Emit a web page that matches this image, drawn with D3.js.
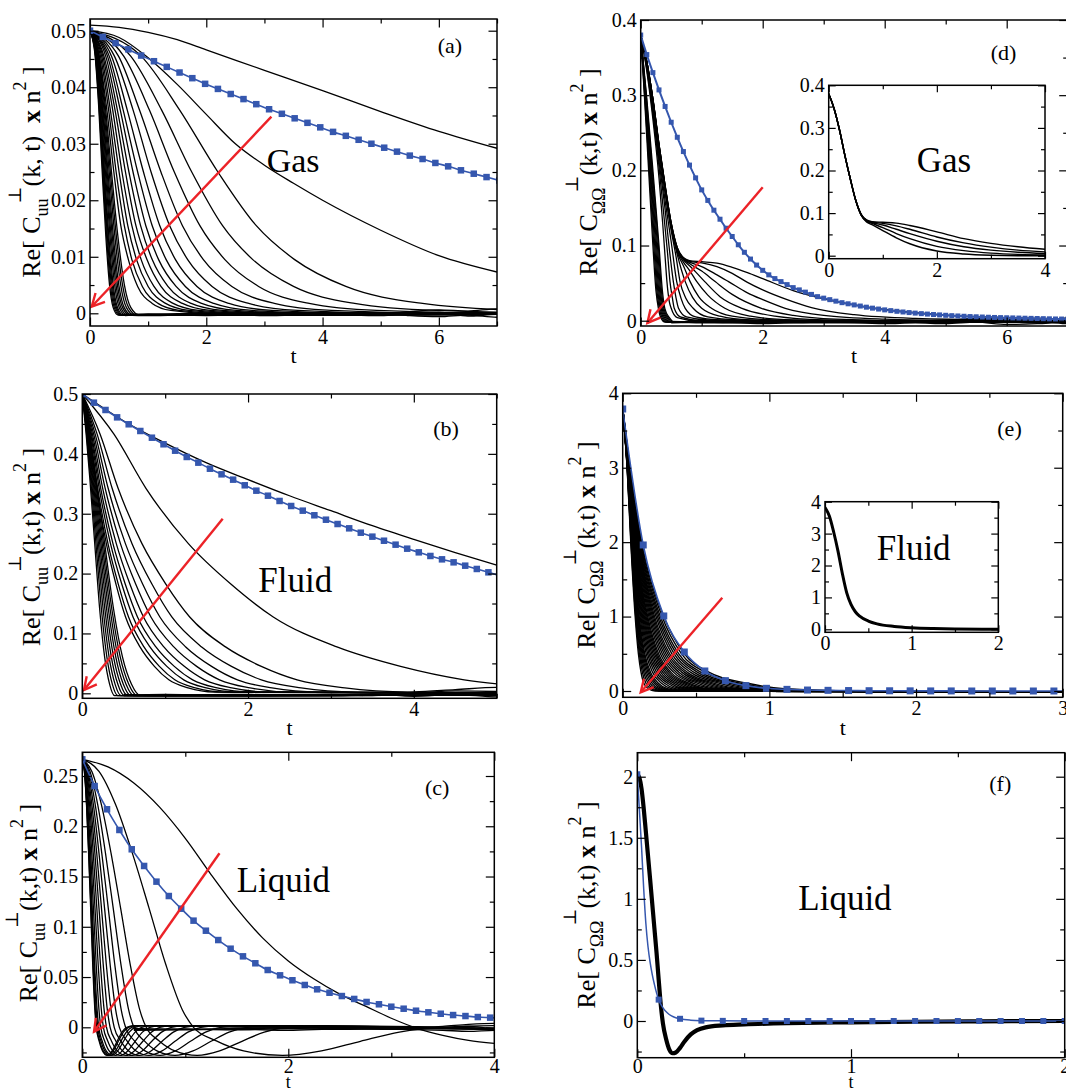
<!DOCTYPE html>
<html><head><meta charset="utf-8">
<script src="https://cdn.jsdelivr.net/npm/d3@7"></script>
<style>
html,body{margin:0;padding:0;background:#fff;}
svg{display:block;font-family:"Liberation Serif","Times New Roman","DejaVu Serif",serif;}
svg text{white-space:pre;}
</style></head><body>
<svg id="chart" width="1066" height="1092"></svg>
<script>
// ================= DATA =================
// ---- Panel (a): Gas, C_uu ----
const aTopT = [0, 0.5, 1, 1.5, 2, 3, 4, 5, 6, 7];
const aTopV = [0.0510, 0.0506, 0.0497, 0.0484, 0.0466, 0.0430, 0.0394, 0.0357, 0.0322, 0.0292];
const aSlowT = [0, 0.5, 1, 1.5, 2, 2.5, 3, 3.5, 4, 5, 6, 7];
const aSlowV = [0.0500, 0.0488, 0.0452, 0.0405, 0.0352, 0.0300, 0.0262, 0.0230, 0.0200, 0.0147, 0.0102, 0.0073];
const aLevels = [0.05, 0.0455, 0.036, 0.025, 0.0155, 0.0095, 0.00475, 0.00175, 0.0005, 0, 0];
const aTimes = [
  [0, 0.88, 1.54, 2.2, 2.86, 3.52, 4.4, 5.72, 7.48, 11, 12],
  [0, 0.7, 1.23, 1.75, 2.28, 2.8, 3.5, 4.55, 5.95, 8.75, 9],
  [0, 0.58, 1.02, 1.45, 1.89, 2.32, 2.9, 3.77, 4.93, 7.25, 7.5],
  [0, 0.49, 0.85, 1.22, 1.59, 1.95, 2.44, 3.17, 4.15, 6.1, 7.5],
  [0, 0.42, 0.74, 1.05, 1.37, 1.68, 2.1, 2.73, 3.57, 5.25, 7.5],
  [0, 0.37, 0.64, 0.92, 1.2, 1.47, 1.84, 2.39, 3.13, 4.6, 7.5],
  [0, 0.33, 0.57, 0.82, 1.07, 1.31, 1.64, 2.13, 2.79, 4.1, 7.5],
  [0, 0.3, 0.52, 0.74, 0.96, 1.18, 1.48, 1.92, 2.52, 3.7, 7.5],
  [0, 0.27, 0.47, 0.67, 0.87, 1.07, 1.34, 1.74, 2.28, 3.35, 7.5],
  [0, 0.24, 0.43, 0.61, 0.79, 0.98, 1.22, 1.59, 2.07, 3.05, 7.5],
  [0, 0.22, 0.39, 0.55, 0.72, 0.88, 1.1, 1.43, 1.87, 2.75, 7.5],
  [0, 0.2, 0.35, 0.5, 0.65, 0.8, 1.0, 1.3, 1.7, 2.5, 7.5],
  [0, 0.18, 0.32, 0.45, 0.59, 0.72, 0.9, 1.17, 1.53, 2.25, 7.5],
  [0, 0.16, 0.29, 0.41, 0.53, 0.66, 0.82, 1.07, 1.39, 2.05, 7.5]
];
const aBundleLevels = [0.05, 0.046, 0.037, 0.025, 0.0135, 0.005, 0.001, -0.0003, -0.0002];
const aBundleTimes = [
  [0, 0.148, 0.259, 0.37, 0.481, 0.592, 0.703, 0.851, 7.2],
  [0, 0.14, 0.245, 0.35, 0.455, 0.56, 0.665, 0.805, 7.2],
  [0, 0.132, 0.231, 0.33, 0.429, 0.528, 0.627, 0.759, 7.2],
  [0, 0.124, 0.217, 0.31, 0.403, 0.496, 0.589, 0.713, 7.2],
  [0, 0.118, 0.207, 0.295, 0.384, 0.472, 0.561, 0.679, 7.2],
  [0, 0.112, 0.196, 0.28, 0.364, 0.448, 0.532, 0.644, 7.2],
  [0, 0.106, 0.186, 0.265, 0.345, 0.424, 0.504, 0.61, 7.2],
  [0, 0.1, 0.175, 0.25, 0.325, 0.4, 0.475, 0.575, 7.2],
  [0, 0.096, 0.168, 0.24, 0.312, 0.384, 0.456, 0.552, 7.2],
  [0, 0.092, 0.161, 0.23, 0.299, 0.368, 0.437, 0.529, 7.2],
  [0, 0.088, 0.154, 0.22, 0.286, 0.352, 0.418, 0.506, 7.2],
  [0, 0.084, 0.147, 0.21, 0.273, 0.336, 0.399, 0.483, 7.2]
];
const aBandT = [0.6, 1, 2, 3, 4, 5, 5.5, 6, 6.5, 7, 7.2];
const aBandV = [
  [-0.0003, -0.0004, -0.0002, -0.0003, 0.0000, -0.0002, 0.0003, 0.0006, 0.0004, 0.0008, 0.0006],
  [-0.0002, -0.0001, -0.0004, -0.0001, -0.0003, 0.0001, -0.0004, -0.0006, -0.0003, -0.0007, -0.0006],
  [-0.0004, -0.0002, 0.0000, -0.0004, -0.0002, -0.0004, 0.0000, 0.0002, -0.0005, -0.0002, -0.0003]
];
const aBlueT = [0, 0.22, 0.44, 0.66, 0.88, 1.1, 1.32, 1.54, 1.76, 1.98, 2.2, 2.42, 2.64, 2.86, 3.08, 3.3, 3.52, 3.74, 3.96, 4.18, 4.4, 4.62, 4.84, 5.06, 5.28, 5.5, 5.72, 5.94, 6.16, 6.38, 6.6, 6.82, 7.04];
const aBlueV = [0.0500, 0.0489, 0.0478, 0.0467, 0.0456, 0.0446, 0.0436, 0.0426, 0.0416, 0.0406, 0.0397, 0.0388, 0.0379, 0.0370, 0.0361, 0.0353, 0.0345, 0.0337, 0.0329, 0.0321, 0.0314, 0.0307, 0.0300, 0.0293, 0.0286, 0.0279, 0.0273, 0.0266, 0.0260, 0.0253, 0.0247, 0.0241, 0.0235];
const aArrow = [[3.12, 0.0348], [0.03, 0.0012]];

// ---- Panel (b): Fluid, C_uu ----
const bTopT = [0, 0.25, 0.5, 1, 1.5, 2, 2.5, 3, 3.5, 4, 4.5, 5];
const bTopV = [0.5, 0.477, 0.455, 0.418, 0.385, 0.357, 0.330, 0.305, 0.280, 0.257, 0.235, 0.214];
const bLevels = [0.5, 0.4325, 0.3425, 0.25, 0.1825, 0.1275, 0.0775, 0.045, 0.0225, 0.009, 0.002, 0];
const bTimes = [
  [0, 0.384, 0.768, 1.28, 1.792, 2.304, 3.072, 3.84, 4.608, 5.632, 7.04, 8],
  [0, 0.216, 0.432, 0.72, 1.008, 1.296, 1.728, 2.16, 2.592, 3.168, 3.96, 6],
  [0, 0.18, 0.36, 0.6, 0.84, 1.08, 1.44, 1.8, 2.16, 2.64, 3.3, 6],
  [0, 0.156, 0.312, 0.52, 0.728, 0.936, 1.248, 1.56, 1.872, 2.288, 2.86, 6],
  [0, 0.138, 0.276, 0.46, 0.644, 0.828, 1.104, 1.38, 1.656, 2.024, 2.53, 6],
  [0, 0.123, 0.246, 0.41, 0.574, 0.738, 0.984, 1.23, 1.476, 1.804, 2.255, 6],
  [0, 0.111, 0.222, 0.37, 0.518, 0.666, 0.888, 1.11, 1.332, 1.628, 2.035, 6],
  [0, 0.102, 0.204, 0.34, 0.476, 0.612, 0.816, 1.02, 1.224, 1.496, 1.87, 6],
  [0, 0.093, 0.186, 0.31, 0.434, 0.558, 0.744, 0.93, 1.116, 1.364, 1.705, 6],
  [0, 0.087, 0.174, 0.29, 0.406, 0.522, 0.696, 0.87, 1.044, 1.276, 1.595, 6]
];
const bBundleLevels = [0.5, 0.435, 0.36, 0.25, 0.14, 0.06, 0.015, -0.004, -0.003];
const bBundleTimes = [
  [0, 0.081, 0.162, 0.27, 0.378, 0.486, 0.594, 0.702, 5.5],
  [0, 0.077, 0.153, 0.255, 0.357, 0.459, 0.561, 0.663, 5.5],
  [0, 0.072, 0.144, 0.24, 0.336, 0.432, 0.528, 0.624, 5.5],
  [0, 0.068, 0.135, 0.225, 0.315, 0.405, 0.495, 0.585, 5.5],
  [0, 0.063, 0.126, 0.21, 0.294, 0.378, 0.462, 0.546, 5.5],
  [0, 0.059, 0.117, 0.195, 0.273, 0.351, 0.429, 0.507, 5.5],
  [0, 0.054, 0.108, 0.18, 0.252, 0.324, 0.396, 0.468, 5.5],
  [0, 0.05, 0.099, 0.165, 0.231, 0.297, 0.363, 0.429, 5.5],
  [0, 0.045, 0.09, 0.15, 0.21, 0.27, 0.33, 0.39, 5.5]
];
const bBandT = [0.5, 1, 2, 3, 3.5, 4, 4.5, 5, 5.2];
const bBandV = [
  [-0.003, -0.002, -0.004, -0.002, -0.004, 0.002, 0.006, 0.010, 0.008],
  [-0.004, -0.003, -0.002, -0.003, -0.001, -0.005, -0.002, -0.006, -0.005],
  [-0.002, -0.004, -0.003, -0.004, -0.002, 0.000, 0.004, 0.003, 0.002]
];
const bBlueT = [0, 0.14, 0.28, 0.42, 0.56, 0.7, 0.84, 0.98, 1.12, 1.26, 1.4, 1.54, 1.68, 1.82, 1.96, 2.1, 2.24, 2.38, 2.52, 2.66, 2.8, 2.94, 3.08, 3.22, 3.36, 3.5, 3.64, 3.78, 3.92, 4.06, 4.2, 4.34, 4.48, 4.62, 4.76, 4.9, 5.04];
const bBlueV = [0.5, 0.4855, 0.4733, 0.461, 0.4494, 0.4382, 0.427, 0.416, 0.4053, 0.3948, 0.3853, 0.3752, 0.3658, 0.3569, 0.3475, 0.3385, 0.3301, 0.3213, 0.3129, 0.3051, 0.2974, 0.29, 0.2828, 0.2756, 0.2683, 0.2617, 0.2549, 0.2483, 0.2416, 0.2355, 0.2294, 0.2238, 0.2188, 0.2132, 0.2077, 0.2021, 0.1965];
const bArrow = [[1.694, 0.2917], [0.02, 0.0055]];

// ---- Panel (c): Liquid, C_uu ----
const cTopT = [0, 0.25, 0.5, 0.75, 1.0, 1.25, 1.5, 1.75, 2.0, 2.25, 2.5, 2.75, 3.0, 3.25, 3.5, 3.75, 4.0];
const cTopV = [0.2666, 0.259, 0.243, 0.219, 0.188, 0.152, 0.118, 0.089, 0.066, 0.048, 0.033, 0.021, 0.009, -0.001, -0.008, -0.013, -0.016];
const cLevels = [0.2666, 0.2546, 0.2213, 0.1733, 0.1186, 0.0627, 0.0173, 0, -0.0133, -0.0235, -0.028, -0.0235, -0.0139, -0.0048, 0, 0.0016, -0.002];
const cTimes = [
  [0, 0.162, 0.324, 0.486, 0.648, 0.81, 0.972, 1.08, 1.296, 1.566, 1.944, 2.322, 2.7, 3.078, 3.456, 3.996, 4.3],
  [0, 0.093, 0.186, 0.279, 0.372, 0.465, 0.558, 0.62, 0.744, 0.899, 1.116, 1.333, 1.55, 1.767, 1.984, 2.294, 4.3],
  [0, 0.075, 0.15, 0.225, 0.3, 0.375, 0.45, 0.5, 0.6, 0.725, 0.9, 1.075, 1.25, 1.425, 1.6, 1.85, 4.3],
  [0, 0.063, 0.126, 0.189, 0.252, 0.315, 0.378, 0.42, 0.504, 0.609, 0.756, 0.903, 1.05, 1.197, 1.344, 1.554, 4.3],
  [0, 0.054, 0.108, 0.162, 0.216, 0.27, 0.324, 0.36, 0.432, 0.522, 0.648, 0.774, 0.9, 1.026, 1.152, 1.332, 4.3],
  [0, 0.047, 0.093, 0.14, 0.186, 0.233, 0.279, 0.31, 0.372, 0.45, 0.558, 0.667, 0.775, 0.884, 0.992, 1.147, 4.3],
  [0, 0.041, 0.081, 0.122, 0.162, 0.203, 0.243, 0.27, 0.324, 0.392, 0.486, 0.581, 0.675, 0.77, 0.864, 0.999, 4.3],
  [0, 0.035, 0.071, 0.106, 0.141, 0.176, 0.212, 0.235, 0.282, 0.341, 0.423, 0.505, 0.588, 0.67, 0.752, 0.87, 4.3],
  [0, 0.031, 0.062, 0.092, 0.123, 0.154, 0.185, 0.205, 0.246, 0.297, 0.369, 0.441, 0.513, 0.584, 0.656, 0.759, 4.3],
  [0, 0.027, 0.054, 0.081, 0.108, 0.135, 0.162, 0.18, 0.216, 0.261, 0.324, 0.387, 0.45, 0.513, 0.576, 0.666, 4.3],
  [0, 0.024, 0.048, 0.072, 0.096, 0.12, 0.144, 0.16, 0.192, 0.232, 0.288, 0.344, 0.4, 0.456, 0.512, 0.592, 4.3],
  [0, 0.023, 0.045, 0.068, 0.09, 0.113, 0.135, 0.15, 0.18, 0.218, 0.27, 0.323, 0.375, 0.428, 0.48, 0.555, 4.3],
  [0, 0.021, 0.042, 0.063, 0.084, 0.105, 0.126, 0.14, 0.168, 0.203, 0.252, 0.301, 0.35, 0.399, 0.448, 0.518, 4.3],
  [0, 0.02, 0.041, 0.061, 0.081, 0.101, 0.122, 0.135, 0.162, 0.196, 0.243, 0.29, 0.338, 0.385, 0.432, 0.5, 4.3]
];
const cBandT = [0.5, 1, 1.5, 2, 2.5, 3, 3.5, 3.75, 4, 4.2];
const cBandV = [
  [-0.002, -0.0015, -0.0025, -0.001, -0.002, -0.001, 0.001, 0.003, 0.004, 0.003],
  [-0.003, -0.0025, -0.002, -0.003, -0.0015, -0.002, -0.003, -0.004, -0.003, -0.003],
  [-0.001, -0.002, -0.001, -0.0015, -0.001, 0.0, -0.001, 0.001, -0.001, 0.0]
];
const cBlueT = [0, 0.12, 0.24, 0.36, 0.48, 0.6, 0.72, 0.84, 0.96, 1.08, 1.2, 1.32, 1.44, 1.56, 1.68, 1.8, 1.92, 2.04, 2.16, 2.28, 2.4, 2.52, 2.64, 2.76, 2.88, 3.0, 3.12, 3.24, 3.36, 3.48, 3.6, 3.72, 3.84, 3.96, 4.08];
const cBlueV = [0.2666, 0.240, 0.2169, 0.1963, 0.1771, 0.1605, 0.1449, 0.1306, 0.118, 0.1061, 0.0961, 0.0868, 0.0782, 0.0706, 0.0637, 0.057, 0.0517, 0.0468, 0.0421, 0.0378, 0.0344, 0.0311, 0.0282, 0.0252, 0.0229, 0.0205, 0.0185, 0.0165, 0.0149, 0.0135, 0.0122, 0.0112, 0.0102, 0.0096, 0.0090];
const cArrow = [[1.332, 0.1731], [0.114, -0.0044]];

// ---- Panel (d): Gas, C_ΩΩ ----
const dCurveT = [
  [0, 0.1, 0.2, 0.3, 0.4, 0.5, 0.6, 0.7, 0.8, 1.0, 1.25, 1.5, 1.75, 2.0, 2.5, 3.0, 3.5, 4.0, 5.0, 6.0, 7.2],
  [0, 0.1, 0.2, 0.3, 0.4, 0.5, 0.6, 0.7, 0.8, 1.0, 1.25, 1.5, 1.75, 2.0, 2.4, 2.8, 3.5, 4.5, 6, 7.2],
  [0, 0.1, 0.2, 0.3, 0.4, 0.5, 0.6, 0.7, 0.8, 1.0, 1.25, 1.44, 1.75, 2.0, 2.37, 3.0, 4.0, 5.0, 7.2],
  [0, 0.1, 0.2, 0.3, 0.4, 0.5, 0.6, 0.7, 0.8, 1.0, 1.22, 1.5, 1.98, 2.5, 3.2, 4.5, 7.2],
  [0, 0.1, 0.2, 0.3, 0.4, 0.5, 0.6, 0.7, 0.8, 0.9, 1.05, 1.3, 1.66, 2.2, 3.0, 4.0, 7.2],
  [0, 0.1, 0.2, 0.3, 0.4, 0.5, 0.6, 0.7, 0.8, 0.92, 1.1, 1.38, 1.8, 2.5, 3.5, 7.2],
  [0, 0.1, 0.2, 0.3, 0.4, 0.5, 0.6, 0.7, 0.81, 0.95, 1.16, 1.5, 2.2, 3.0, 7.2],
  [0, 0.1, 0.2, 0.3, 0.4, 0.5, 0.6, 0.73, 0.85, 1.0, 1.3, 1.8, 2.5, 7.2],
  [0, 0.1, 0.2, 0.3, 0.4, 0.5, 0.58, 0.645, 0.74, 0.86, 1.1, 1.6, 2.3, 7.2],
  [0, 0.1, 0.2, 0.3, 0.4, 0.5, 0.59, 0.66, 0.73, 0.9, 1.3, 2.0, 7.2],
  [0, 0.1, 0.2, 0.3, 0.4, 0.47, 0.535, 0.58, 0.62, 0.75, 1.1, 2.0, 7.2],
  [0, 0.1, 0.2, 0.3, 0.38, 0.44, 0.48, 0.52, 0.55, 0.65, 1.0, 7.2],
  [0, 0.1, 0.2, 0.3, 0.36, 0.4, 0.43, 0.47, 0.5, 0.6, 0.9, 7.2]
];
const dCurveV = [
  [0.38, 0.345, 0.295, 0.235, 0.18, 0.13, 0.097, 0.084, 0.080, 0.0785, 0.0765, 0.071, 0.064, 0.056, 0.040, 0.029, 0.021, 0.015, 0.0075, 0.004, 0.0018],
  [0.38, 0.345, 0.295, 0.235, 0.18, 0.13, 0.097, 0.083, 0.079, 0.077, 0.072, 0.063, 0.051, 0.041, 0.028, 0.0175, 0.008, 0.003, 0.001, 0.0005],
  [0.38, 0.345, 0.295, 0.234, 0.179, 0.129, 0.096, 0.082, 0.078, 0.072, 0.061, 0.052, 0.037, 0.028, 0.0165, 0.007, 0.002, 0.0005, 0],
  [0.38, 0.344, 0.294, 0.233, 0.178, 0.128, 0.095, 0.082, 0.076, 0.066, 0.052, 0.035, 0.0165, 0.007, 0.002, 0, 0],
  [0.38, 0.344, 0.293, 0.232, 0.177, 0.127, 0.094, 0.081, 0.073, 0.065, 0.052, 0.032, 0.0165, 0.006, 0.001, 0, 0],
  [0.38, 0.343, 0.292, 0.231, 0.176, 0.126, 0.093, 0.078, 0.067, 0.052, 0.034, 0.0165, 0.006, 0.001, 0, 0],
  [0.38, 0.343, 0.291, 0.23, 0.175, 0.125, 0.091, 0.073, 0.052, 0.032, 0.0165, 0.006, 0.001, 0, 0],
  [0.38, 0.342, 0.29, 0.229, 0.173, 0.123, 0.088, 0.052, 0.031, 0.0165, 0.006, 0.001, 0, 0],
  [0.38, 0.342, 0.289, 0.228, 0.171, 0.12, 0.085, 0.052, 0.03, 0.0165, 0.005, 0.001, 0, 0],
  [0.38, 0.34, 0.284, 0.22, 0.16, 0.105, 0.052, 0.03, 0.0165, 0.005, 0.001, 0, 0],
  [0.38, 0.338, 0.28, 0.213, 0.148, 0.095, 0.052, 0.03, 0.0165, 0.005, 0.001, 0, 0],
  [0.38, 0.335, 0.275, 0.205, 0.14, 0.09, 0.052, 0.03, 0.0165, 0.005, 0, 0],
  [0.38, 0.332, 0.268, 0.19, 0.13, 0.085, 0.052, 0.025, 0.0165, 0.004, 0, 0]
];
const dBundleLevels = [0.38, 0.3, 0.2, 0.1, 0.04, 0.0165, 0.004, -0.002, -0.002];
const dBundleTimes = [
  [0, 0.06, 0.13, 0.2, 0.25, 0.29, 0.33, 0.4, 7.2],
  [0, 0.065, 0.14, 0.215, 0.265, 0.305, 0.35, 0.42, 7.2],
  [0, 0.07, 0.15, 0.23, 0.28, 0.32, 0.37, 0.44, 7.2],
  [0, 0.075, 0.16, 0.245, 0.295, 0.335, 0.39, 0.46, 7.2],
  [0, 0.08, 0.17, 0.26, 0.31, 0.35, 0.41, 0.48, 7.2],
  [0, 0.085, 0.18, 0.275, 0.325, 0.365, 0.43, 0.5, 7.2],
  [0, 0.09, 0.19, 0.29, 0.34, 0.38, 0.45, 0.52, 7.2],
  [0, 0.095, 0.2, 0.3, 0.355, 0.395, 0.47, 0.55, 7.2]
];
const dBandT = [0.5, 1, 2, 3, 4, 4.5, 5, 5.5, 6, 6.5, 7, 7.2];
const dBandV = [
  [-0.002, -0.003, -0.002, -0.003, -0.002, -0.001, 0.001, 0.002, -0.001, -0.003, 0.004, 0.006],
  [-0.003, -0.002, -0.004, -0.002, -0.004, -0.003, -0.004, -0.002, -0.005, -0.004, -0.002, -0.003],
  [-0.001, -0.002, -0.001, -0.002, -0.001, -0.002, 0.0, 0.003, 0.002, 0.0, -0.004, 0.0]
];
const dBlueT = [0, 0.1, 0.2, 0.3, 0.4, 0.5, 0.6, 0.7, 0.8, 0.9, 1.0, 1.1, 1.2, 1.3, 1.4, 1.5, 1.6, 1.7, 1.8, 1.9, 2.0, 2.1, 2.2, 2.3, 2.4, 2.5, 2.6, 2.7, 2.8, 2.9, 3.0, 3.1, 3.2, 3.3, 3.4, 3.5, 3.6, 3.7, 3.8, 3.9, 4.0, 4.1, 4.2, 4.3, 4.4, 4.5, 4.6, 4.7, 4.8, 4.9, 5.0, 5.1, 5.2, 5.3, 5.4, 5.5, 5.6, 5.7, 5.8, 5.9, 6.0, 6.1, 6.2, 6.3, 6.4, 6.5, 6.6, 6.7, 6.8, 6.9, 7.0];
const dBlueV = [0.380, 0.354, 0.330, 0.307, 0.285, 0.264, 0.244, 0.225, 0.207, 0.190, 0.174, 0.160, 0.147, 0.135, 0.123, 0.112, 0.101, 0.091, 0.082, 0.074, 0.067, 0.061, 0.056, 0.052, 0.048, 0.044, 0.041, 0.038, 0.035, 0.032, 0.030, 0.028, 0.026, 0.024, 0.0225, 0.021, 0.0195, 0.018, 0.0167, 0.0155, 0.0144, 0.0134, 0.0125, 0.0116, 0.0108, 0.0101, 0.0094, 0.0088, 0.0082, 0.0077, 0.0072, 0.0067, 0.0063, 0.0059, 0.0055, 0.0052, 0.0049, 0.0046, 0.0043, 0.0041, 0.0039, 0.0037, 0.0035, 0.0033, 0.0031, 0.0029, 0.0027, 0.0025, 0.0023, 0.0022, 0.0021];
const dArrow = [[2.0, 0.1775], [0.11, -0.003]];
const dInsetT = [0, 0.1, 0.2, 0.3, 0.4, 0.5, 0.6, 0.7, 0.8, 1.0, 1.25, 1.5, 2.0, 2.5, 3.0, 3.5, 4.0];
const dInsetV = [
  [0.38, 0.345, 0.295, 0.235, 0.18, 0.13, 0.097, 0.084, 0.080, 0.0785, 0.0765, 0.071, 0.056, 0.040, 0.029, 0.021, 0.015],
  [0.38, 0.345, 0.295, 0.235, 0.18, 0.13, 0.097, 0.083, 0.079, 0.076, 0.070, 0.062, 0.044, 0.030, 0.020, 0.013, 0.009],
  [0.38, 0.345, 0.295, 0.235, 0.18, 0.13, 0.096, 0.082, 0.078, 0.072, 0.062, 0.052, 0.034, 0.021, 0.013, 0.008, 0.005],
  [0.38, 0.345, 0.295, 0.235, 0.18, 0.13, 0.096, 0.081, 0.076, 0.066, 0.052, 0.040, 0.022, 0.012, 0.006, 0.003, 0.002],
  [0.38, 0.345, 0.295, 0.235, 0.18, 0.129, 0.095, 0.079, 0.073, 0.059, 0.042, 0.028, 0.011, 0.004, 0.001, 0.0, 0.0]
];

// ---- Panel (e): Fluid, C_ΩΩ ----
const eLevels = [3.8, 3.0, 2.0, 1.0, 0.5, 0.25, 0.1, 0.03, 0.0, -0.015];
const eTimes = [
  [0, 0.03, 0.055, 0.085, 0.107, 0.125, 0.145, 0.175, 0.22, 3.2],
  [0, 0.0304, 0.0565, 0.0889, 0.1133, 0.1343, 0.1593, 0.1935, 0.2476, 3.2],
  [0, 0.0308, 0.058, 0.0928, 0.1195, 0.1436, 0.1736, 0.212, 0.2752, 3.2],
  [0, 0.0312, 0.0595, 0.0967, 0.1258, 0.1529, 0.1879, 0.2305, 0.3028, 3.2],
  [0, 0.0316, 0.061, 0.1006, 0.132, 0.1622, 0.2022, 0.249, 0.3304, 3.2],
  [0, 0.032, 0.0625, 0.1045, 0.1383, 0.1715, 0.2165, 0.2675, 0.358, 3.2],
  [0, 0.0324, 0.064, 0.1084, 0.1446, 0.1808, 0.2308, 0.286, 0.3856, 3.2],
  [0, 0.0328, 0.0655, 0.1123, 0.1508, 0.1901, 0.2451, 0.3045, 0.4132, 3.2],
  [0, 0.0334, 0.0678, 0.1182, 0.1602, 0.2041, 0.2666, 0.3323, 0.4546, 3.2],
  [0, 0.034, 0.07, 0.124, 0.1696, 0.218, 0.288, 0.36, 0.496, 3.2],
  [0, 0.0346, 0.0723, 0.1299, 0.179, 0.232, 0.3095, 0.3878, 0.5374, 3.2],
  [0, 0.0352, 0.0745, 0.1357, 0.1884, 0.2459, 0.3309, 0.4155, 0.5788, 3.2],
  [0, 0.0358, 0.0768, 0.1416, 0.1978, 0.2599, 0.3524, 0.4433, 0.6202, 3.2],
  [0, 0.0364, 0.079, 0.1474, 0.2072, 0.2738, 0.3738, 0.471, 0.6616, 3.2],
  [0, 0.037, 0.0813, 0.1533, 0.2166, 0.2878, 0.3953, 0.4988, 0.703, 3.2],
  [0, 0.0376, 0.0835, 0.1591, 0.2259, 0.3017, 0.4167, 0.5265, 0.7444, 3.2],
  [0, 0.0382, 0.0858, 0.165, 0.2353, 0.3157, 0.4382, 0.5543, 0.7858, 3.2],
  [0, 0.0388, 0.088, 0.1708, 0.2447, 0.3296, 0.4596, 0.582, 0.8272, 3.2],
  [0, 0.0396, 0.091, 0.1786, 0.2572, 0.3482, 0.4882, 0.619, 0.8824, 3.2],
  [0, 0.0404, 0.094, 0.1864, 0.2698, 0.3668, 0.5168, 0.656, 0.9376, 3.2],
  [0, 0.0412, 0.097, 0.1942, 0.2823, 0.3854, 0.5454, 0.693, 0.9928, 3.2],
  [0, 0.042, 0.1, 0.202, 0.2948, 0.404, 0.574, 0.73, 1.048, 3.2],
  [0, 0.0428, 0.103, 0.2098, 0.3073, 0.4226, 0.6026, 0.767, 1.1032, 3.2],
  [0, 0.0436, 0.106, 0.2176, 0.3198, 0.4412, 0.6312, 0.804, 1.1584, 3.2],
  [0, 0.0446, 0.1098, 0.2274, 0.3355, 0.4645, 0.667, 0.8503, 1.2274, 3.2],
  [0, 0.0456, 0.1135, 0.2371, 0.3511, 0.4877, 0.7027, 0.8965, 1.2964, 3.2],
  [0, 0.0466, 0.1173, 0.2469, 0.3668, 0.511, 0.7385, 0.9428, 1.3654, 3.2],
  [0, 0.0476, 0.121, 0.2566, 0.3824, 0.5342, 0.7742, 0.989, 1.4344, 3.2],
  [0, 0.0488, 0.1255, 0.2683, 0.4012, 0.5621, 0.8171, 1.0445, 1.5172, 3.2],
  [0, 0.05, 0.13, 0.28, 0.42, 0.59, 0.86, 1.1, 1.6, 3.2]
];
const eBlueT = [0, 0.14, 0.28, 0.42, 0.56, 0.7, 0.84, 0.98, 1.12, 1.26, 1.4, 1.54, 1.68, 1.82, 1.96, 2.1, 2.24, 2.38, 2.52, 2.66, 2.8, 2.94, 3.08];
const eBlueV = [3.789, 1.962, 1.008, 0.524, 0.269, 0.139, 0.072, 0.036, 0.022, 0.013, 0.009, 0.006, 0.004, 0.003, 0.002, 0.001, 0.001, 0.0, 0.0, 0.0, 0.0, 0.0, 0.0];
const eArrow = [[0.679, 1.254], [0.123, -0.018]];
const eInsetT = [0, 0.05, 0.1, 0.15, 0.2, 0.25, 0.3, 0.35, 0.4, 0.5, 0.6, 0.8, 1.0, 1.25, 1.5, 2.0];
const eInsetV = [3.82, 3.55, 3.05, 2.45, 1.75, 1.15, 0.78, 0.55, 0.41, 0.26, 0.17, 0.09, 0.05, 0.025, 0.012, 0.003];

// ---- Panel (f): Liquid, C_ΩΩ ----
const fBlackT = [0, 0.01, 0.02, 0.03, 0.04, 0.06, 0.08, 0.09, 0.1, 0.11, 0.12, 0.135, 0.15, 0.165, 0.18, 0.2, 0.22, 0.25, 0.28, 0.32, 0.4, 0.5, 0.7, 1.0, 1.3, 1.6, 2.0, 2.1];
const fBlackV = [2.02, 1.99, 1.9, 1.74, 1.55, 1.16, 0.76, 0.56, 0.34, 0.13, -0.02, -0.15, -0.235, -0.264, -0.258, -0.22, -0.17, -0.11, -0.075, -0.052, -0.036, -0.028, -0.018, -0.011, -0.006, -0.003, 0, 0];
const fBlueLineT = [0, 0.01, 0.02, 0.03, 0.04, 0.05, 0.06, 0.07, 0.08, 0.09, 0.1, 0.12, 0.14, 0.16, 0.18, 0.2, 0.25, 0.3, 0.4, 0.6, 1.0, 1.5, 2.0, 2.1];
const fBlueLineV = [2.02, 1.72, 1.42, 1.08, 0.80, 0.61, 0.48, 0.38, 0.30, 0.23, 0.175, 0.108, 0.068, 0.042, 0.027, 0.018, 0.007, 0.003, 0.001, 0, 0, 0, 0, 0];
const fBlueMarkT = [0, 0.1, 0.2, 0.3, 0.4, 0.5, 0.6, 0.7, 0.8, 0.9, 1.0, 1.1, 1.2, 1.3, 1.4, 1.5, 1.6, 1.7, 1.8, 1.9, 2.0];
const fBlueMarkV = [2.02, 0.175, 0.018, 0.003, 0.001, 0, 0, 0, 0, 0, 0, 0, 0, 0, 0, 0, 0, 0, 0, 0, 0];

// ================= DRAWING =================
const svg = d3.select('#chart');
const BLUE = '#3557ae', RED = '#ec2227';
const FONT = '"Liberation Serif","Times New Roman","DejaVu Serif",serif';
let clipN = 0;
const fmt = d => String(+d.toFixed(4));
const zip = (ts, vs) => ts.map((t, i) => [t, vs[i]]);

function panel(o) {
  const x = d3.scaleLinear().domain(o.xd).range([o.x0, o.x1]);
  const y = d3.scaleLinear().domain(o.yd).range([o.y1, o.y0]);
  const id = 'clip' + (clipN++);
  svg.append('clipPath').attr('id', id).append('rect')
    .attr('x', o.x0).attr('y', o.y0).attr('width', o.x1 - o.x0).attr('height', o.y1 - o.y0);
  const g = svg.append('g');
  if (o.bg) g.append('rect').attr('x', o.x0).attr('y', o.y0).attr('width', o.x1 - o.x0)
    .attr('height', o.y1 - o.y0).attr('fill', '#fff');
  const plot = g.append('g').attr('clip-path', `url(#${id})`);
  return {o, x, y, g, plot};
}
function lg(p) {
  return d3.line().x(d => p.x(d[0])).y(d => p.y(d[1])).curve(d3.curveMonotoneX);
}
function black(p, pts, w) {
  p.plot.append('path').attr('d', lg(p)(pts)).attr('fill', 'none').attr('stroke', '#000')
    .attr('stroke-width', w || 1.3).attr('stroke-linejoin', 'round');
}
function blue(p, linePts, markPts, size, w) {
  p.plot.append('path').attr('d', lg(p)(linePts)).attr('fill', 'none').attr('stroke', BLUE)
    .attr('stroke-width', w || 1.6);
  p.plot.selectAll(null).data(markPts).enter().append('rect')
    .attr('x', d => p.x(d[0]) - size / 2).attr('y', d => p.y(d[1]) - size / 2)
    .attr('width', size).attr('height', size).attr('fill', BLUE);
}
function arrow(p, a) {
  const xs = p.x(a[0][0]), ys = p.y(a[0][1]), xe = p.x(a[1][0]), ye = p.y(a[1][1]);
  const ang = Math.atan2(ys - ye, xs - xe), L = 14, sp = Math.PI / 6.5;
  p.g.append('line').attr('x1', xs).attr('y1', ys).attr('x2', xe).attr('y2', ye)
    .attr('stroke', RED).attr('stroke-width', 2.4);
  p.g.append('path').attr('d', `M${xe + L * Math.cos(ang + sp)},${ye + L * Math.sin(ang + sp)}L${xe},${ye}L${xe + L * Math.cos(ang - sp)},${ye + L * Math.sin(ang - sp)}`)
    .attr('fill', 'none').attr('stroke', RED).attr('stroke-width', 2.4).attr('stroke-linejoin', 'miter');
}
function axes(p, t) {
  const o = p.o, g = p.g.append('g');
  const maj = t.maj || 8.5, mnr = t.mnr || 4.5, bpad = t.bpad == null ? 4 : t.bpad;
  const mk = (axis, tr, vals, size, labels, pad) => {
    const a = axis.tickValues(vals).tickSize(-size).tickSizeOuter(0).tickPadding(pad)
      .tickFormat(labels ? fmt : () => '');
    const s = g.append('g').attr('transform', tr).call(a);
    s.attr('font-family', FONT).attr('font-size', 20);
    s.select('.domain').remove();
    s.selectAll('line').attr('stroke', '#000').attr('stroke-width', 1.2);
    s.selectAll('text').attr('fill', '#000');
  };
  mk(d3.axisBottom(p.x), `translate(0,${o.y1})`, t.xMaj, maj, true, bpad);
  mk(d3.axisBottom(p.x), `translate(0,${o.y1})`, t.xMin, mnr, false, 4);
  mk(d3.axisTop(p.x), `translate(0,${o.y0})`, t.xMaj, maj, false, 4);
  mk(d3.axisTop(p.x), `translate(0,${o.y0})`, t.xMin, mnr, false, 4);
  mk(d3.axisLeft(p.y), `translate(${o.x0},0)`, t.yMaj, maj, true, 4);
  mk(d3.axisLeft(p.y), `translate(${o.x0},0)`, t.yMin, mnr, false, 4);
  mk(d3.axisRight(p.y), `translate(${o.x1},0)`, t.yMaj, maj, false, 4);
  mk(d3.axisRight(p.y), `translate(${o.x1},0)`, t.yMin, mnr, false, 4);
  g.append('rect').attr('x', o.x0).attr('y', o.y0).attr('width', o.x1 - o.x0).attr('height', o.y1 - o.y0)
    .attr('fill', 'none').attr('stroke', '#000').attr('stroke-width', 1.5);
}
function text(x, y, s, size, anchor) {
  svg.append('text').attr('x', x).attr('y', y).attr('font-size', size)
    .attr('text-anchor', anchor || 'start').attr('fill', '#000').text(s);
}
function yLabel(cx, cy, sub, kt) {
  const t = svg.append('text').attr('transform', `translate(${cx},${cy}) rotate(-90)`)
    .attr('text-anchor', 'middle').attr('font-size', 26).attr('fill', '#000');
  t.append('tspan').text('Re[ C');
  t.append('tspan').attr('font-size', 18).attr('dy', 8).text(sub);
  t.append('tspan').attr('font-size', 18).attr('dx', -5).attr('dy', -27).text('⊥');
  t.append('tspan').attr('dy', 19).text(kt);
  t.append('tspan').attr('font-weight', 'bold').text('x');
  t.append('tspan').text(' n');
  t.append('tspan').attr('font-size', 18).attr('dy', -14).text('2');
  t.append('tspan').attr('dy', 14).text(' ]');
}

// ---------- Panel (a) ----------
{
  const p = panel({x0: 90, x1: 497, y0: 19, y1: 326, xd: [0, 7], yd: [-0.002247, 0.05207]});
  aBandV.forEach(v => black(p, zip(aBandT, v)));
  aBundleTimes.forEach(ts => black(p, zip(ts, aBundleLevels)));
  aTimes.forEach(ts => black(p, zip(ts, aLevels)));
  black(p, zip(aSlowT, aSlowV));
  black(p, zip(aTopT, aTopV));
  const bp = zip(aBlueT, aBlueV);
  blue(p, bp, bp, 6.5);
  arrow(p, aArrow);
  axes(p, {xMaj: [0, 2, 4, 6], xMin: [1, 3, 5, 7], yMaj: [0, 0.01, 0.02, 0.03, 0.04, 0.05], yMin: [0.005, 0.015, 0.025, 0.035, 0.045]});
  text(437.7, 53, '(a)', 22);
  text(266.7, 171.7, 'Gas', 34);
  text(293.5, 363, 't', 22, 'middle');
  yLabel(40, 172, 'uu', '(k, t)  ');
}
// ---------- Panel (b) ----------
{
  const p = panel({x0: 82.3, x1: 496.7, y0: 394, y1: 698.3, xd: [0, 5], yd: [-0.00835, 0.5]});
  bBandV.forEach(v => black(p, zip(bBandT, v)));
  bBundleTimes.forEach(ts => black(p, zip(ts, bBundleLevels)));
  bTimes.forEach(ts => black(p, zip(ts, bLevels)));
  black(p, zip(bTopT, bTopV));
  const bp = zip(bBlueT, bBlueV);
  blue(p, bp, bp, 6.5);
  arrow(p, bArrow);
  axes(p, {xMaj: [0, 2, 4], xMin: [1, 3, 5], yMaj: [0, 0.1, 0.2, 0.3, 0.4, 0.5], yMin: [0.05, 0.15, 0.25, 0.35, 0.45]});
  text(433.3, 436, '(b)', 22);
  text(258.3, 592, 'Fluid', 35);
  text(289.5, 735, 't', 22, 'middle');
  yLabel(39.5, 547, 'uu', '(k,t) ');
}
// ---------- Panel (c) ----------
{
  const p = panel({x0: 82.3, x1: 494.3, y0: 752.3, y1: 1057.3, xd: [0, 4], yd: [-0.02984, 0.27358]});
  cBandV.forEach(v => black(p, zip(cBandT, v)));
  cTimes.forEach(ts => black(p, zip(ts, cLevels)));
  black(p, zip(cTopT, cTopV));
  const bp = zip(cBlueT, cBlueV);
  blue(p, bp, bp, 6.5);
  arrow(p, cArrow);
  axes(p, {xMaj: [0, 2, 4], xMin: [1, 3], yMaj: [0, 0.05, 0.1, 0.15, 0.2, 0.25], yMin: [-0.025, 0.025, 0.075, 0.125, 0.175, 0.225], bpad: 1});
  text(425, 795, '(c)', 22);
  text(236.7, 892, 'Liquid', 35);
  text(288.3, 1088, 't', 18, 'middle');
  yLabel(37, 903, 'uu', '(k,t) ');
}
// ---------- Panel (d) ----------
{
  const p = panel({x0: 640.7, x1: 1067.7, y0: 20, y1: 326, xd: [0, 7], yd: [-0.00705, 0.4]});
  dBandV.forEach(v => black(p, zip(dBandT, v)));
  dBundleTimes.forEach(ts => black(p, zip(ts, dBundleLevels)));
  dCurveT.forEach((ts, i) => black(p, zip(ts, dCurveV[i])));
  const bp = zip(dBlueT, dBlueV);
  blue(p, bp, bp, 5, 2);
  arrow(p, dArrow);
  axes(p, {xMaj: [0, 2, 4, 6], xMin: [1, 3, 5, 7], yMaj: [0, 0.1, 0.2, 0.3, 0.4], yMin: [0.05, 0.15, 0.25, 0.35]});
  text(990.7, 60, '(d)', 22);
  text(854, 363, 't', 22, 'middle');
  yLabel(597, 172, 'ΩΩ', '(k,t) ');
  const q = panel({x0: 828.7, x1: 1045, y0: 85.3, y1: 258.7, xd: [0, 4], yd: [-0.00704, 0.4], bg: true});
  dInsetV.forEach(v => black(q, zip(dInsetT, v), 1.4));
  axes(q, {xMaj: [0, 2, 4], xMin: [1, 3], yMaj: [0, 0.1, 0.2, 0.3, 0.4], yMin: [0.05, 0.15, 0.25, 0.35], maj: 7, mnr: 4});
  text(916.7, 171.7, 'Gas', 35);
}
// ---------- Panel (e) ----------
{
  const p = panel({x0: 622.7, x1: 1062.7, y0: 393.3, y1: 697.3, xd: [0, 3], yd: [-0.0847, 4]});
  eTimes.forEach(ts => black(p, zip(ts, eLevels), 1.4));
  const bp = zip(eBlueT, eBlueV);
  blue(p, bp, bp, 7);
  arrow(p, eArrow);
  axes(p, {xMaj: [0, 1, 2, 3], xMin: [0.5, 1.5, 2.5], yMaj: [0, 1, 2, 3, 4], yMin: [0.5, 1.5, 2.5, 3.5]});
  text(997.3, 436, '(e)', 22);
  text(842.7, 735, 't', 22, 'middle');
  yLabel(595, 545, 'ΩΩ', '(k,t) ');
  const q = panel({x0: 825, x1: 998.3, y0: 501.7, y1: 632.3, xd: [0, 2], yd: [-0.094, 4], bg: true});
  black(q, zip(eInsetT, eInsetV), 3);
  axes(q, {xMaj: [0, 1, 2], xMin: [0.5, 1.5], yMaj: [0, 1, 2, 3, 4], yMin: [0.5, 1.5, 2.5, 3.5], maj: 7, mnr: 4});
  text(876.7, 560, 'Fluid', 35);
}
// ---------- Panel (f) ----------
{
  const p = panel({x0: 637.3, x1: 1064.7, y0: 752.7, y1: 1057.7, xd: [0, 2], yd: [-0.3005, 2.1965]});
  black(p, zip(fBlackT, fBlackV), 4.2);
  blue(p, zip(fBlueLineT, fBlueLineV), zip(fBlueMarkT, fBlueMarkV), 6, 1.5);
  axes(p, {xMaj: [0, 1, 2], xMin: [0.5, 1.5], yMaj: [0, 0.5, 1, 1.5, 2], yMin: [-0.25, 0.25, 0.75, 1.25, 1.75], bpad: 1});
  text(989.3, 791, '(f)', 22);
  text(798.3, 910, 'Liquid', 35);
  text(851, 1088, 't', 18, 'middle');
  yLabel(595, 905, 'ΩΩ', '(k,t) ');
}
</script>
</body></html>
